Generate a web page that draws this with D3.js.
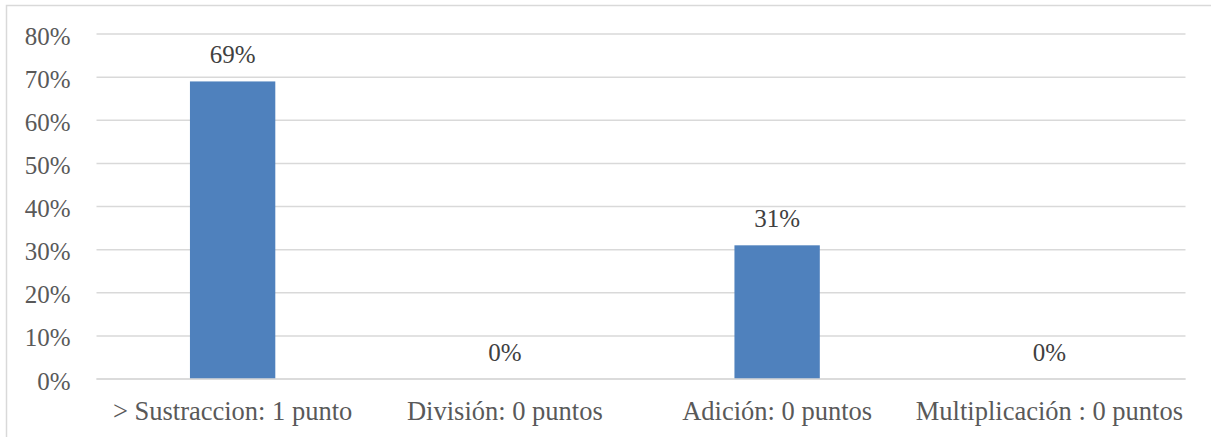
<!DOCTYPE html>
<html lang="es">
<head>
  <meta charset="UTF-8">
  <title>Operaciones</title>
  <style>
    body { margin: 0; background: #fff; }
  </style>
</head>
<body>
  <div id="app"></div>

  <script src="https://cdn.jsdelivr.net/npm/d3@7"></script>
  <script>
    const categories = ['> Sustraccion: 1 punto', 'División: 0 puntos', 'Adición: 0 puntos', 'Multiplicación : 0 puntos']
    const values = [0.69, 0, 0.31, 0]
    const yTicks = [0, 0.1, 0.2, 0.3, 0.4, 0.5, 0.6, 0.7, 0.8]

    const width = 1211
    const height = 437
    const plot = { left: 96.5, right: 1185.5, top: 34, bottom: 379 }
    const serif = '"Liberation Serif"'

    const svg = d3.select('#app').append('svg')
      .attr('width', width)
      .attr('height', height)

    // chart area border (cut off at right and bottom)
    svg.append('rect')
      .attr('x', 6.5).attr('y', 5.5)
      .attr('width', 1400).attr('height', 600)
      .attr('fill', 'none')
      .attr('stroke', '#d9d9d9')
      .attr('stroke-width', 1.5)

    const gap = 0.6865
    const x = d3.scaleBand()
      .domain(categories)
      .range([plot.left, plot.right])
      .paddingInner(gap)
      .paddingOuter(gap / 2)

    const y = d3.scaleLinear()
      .domain([0, 0.8])
      .range([plot.bottom, plot.top])

    // gridlines
    svg.append('g')
      .selectAll('line')
      .data(yTicks)
      .join('line')
      .attr('x1', plot.left).attr('x2', plot.right)
      .attr('y1', d => y(d)).attr('y2', d => y(d))
      .attr('stroke', '#d9d9d9')
      .attr('stroke-width', 1.5)

    // y axis labels
    const yAxis = svg.append('g')
      .attr('transform', `translate(${plot.left}, 0)`)
      .call(d3.axisLeft(y).tickValues(yTicks).tickFormat(d3.format('.0%')).tickSize(0).tickPadding(26))
    yAxis.select('.domain').remove()
    yAxis.selectAll('text')
      .attr('fill', '#595959')
      .attr('dy', '0.4em')
      .style('font-family', serif)
      .style('font-size', '25px')

    // bars
    svg.append('g')
      .selectAll('rect')
      .data(values)
      .join('rect')
      .attr('x', (d, i) => x(categories[i]))
      .attr('y', d => y(d))
      .attr('width', x.bandwidth())
      .attr('height', d => y(0) - y(d))
      .attr('fill', '#4f81bd')

    // axis line over the bars
    svg.append('line')
      .attr('x1', plot.left).attr('x2', plot.right)
      .attr('y1', y(0)).attr('y2', y(0))
      .attr('stroke', '#d9d9d9')
      .attr('stroke-width', 1.5)

    // data labels
    svg.append('g')
      .selectAll('text')
      .data(values)
      .join('text')
      .attr('x', (d, i) => x(categories[i]) + x.bandwidth() / 2)
      .attr('y', d => y(d) - 18)
      .attr('text-anchor', 'middle')
      .attr('fill', '#404040')
      .style('font-family', serif)
      .style('font-size', '25px')
      .text(d => d3.format('.0%')(d))

    // category labels
    const xAxis = svg.append('g')
      .attr('transform', `translate(0, ${plot.bottom})`)
      .call(d3.axisBottom(x).tickSize(0).tickPadding(22))
    xAxis.select('.domain').remove()
    xAxis.selectAll('text')
      .attr('fill', '#595959')
      .style('font-family', serif)
      .style('font-size', '26.5px')
  </script>
</body>
</html>
